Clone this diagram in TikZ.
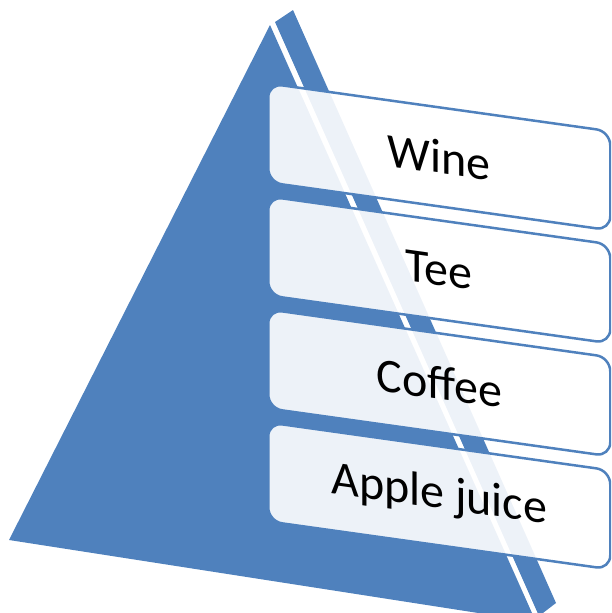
\documentclass[tikz,border=0pt]{standalone}
\usepackage{fontspec}
\setmainfont{Carlito}
\definecolor{pyrblue}{RGB}{79,129,189}
\begin{document}
\begin{tikzpicture}[x=1pt,y=-1pt,
  face/.style={fill=pyrblue, draw=none},
  listbox/.style={draw=pyrblue, line width=2.5pt, fill=white, fill opacity=0.9,
    text opacity=1, text=black, rounded corners=14pt, transform shape,
    minimum width=342pt, minimum height=99pt, anchor=north west, inner sep=0pt,
    font=\fontsize{48}{58}\selectfont}]
\useasboundingbox (0,0) rectangle (611,613);
\clip (0,0) rectangle (611,613);
% pyramid faces
\path[face] (270,25) -- (9,540) -- (536,622) -- cycle;
\path[face] (275,22) -- (293,10) -- (556,603) -- (539,616) -- cycle;
% sheared list boxes
\begin{scope}[shift={(267,0)}, cm={1,-0.14,0,1,(0,0)}]
  \node[listbox] (b1) at (0,82)  {Wine};
  \node[listbox] (b2) at (0,195) {Tee};
  \node[listbox] (b3) at (0,308) {Coffee};
  \node[listbox] (b4) at (0,421) {Apple juice};
\end{scope}
\end{tikzpicture}
\end{document}
